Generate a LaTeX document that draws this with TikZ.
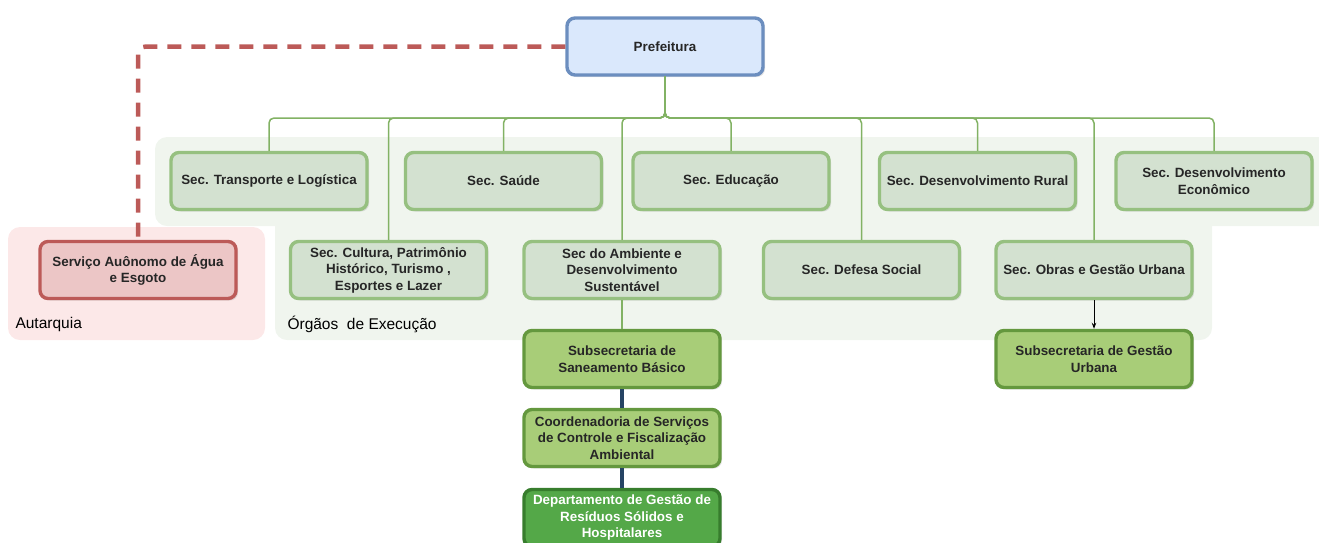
\documentclass[tikz,border=0pt]{standalone}
\usepackage{fontspec}
\setmainfont{Liberation Sans}
\usetikzlibrary{arrows.meta, positioning, shadows}
\definecolor{PrefFundo}{RGB}{218,232,252}
\definecolor{PrefBorda}{RGB}{108,142,191}
\definecolor{SecFundo}{RGB}{211,225,208}
\definecolor{SecBorda}{RGB}{150,192,128}
\definecolor{LigaVerde}{RGB}{130,178,100}
\definecolor{SubFundo}{RGB}{168,205,120}
\definecolor{SubBorda}{RGB}{100,152,62}
\definecolor{DepFundo}{RGB}{84,168,72}
\definecolor{DepBorda}{RGB}{55,125,45}
\definecolor{SaaeFundo}{RGB}{236,198,198}
\definecolor{SaaeBorda}{RGB}{188,90,88}
\definecolor{FundoVerde}{RGB}{240,245,238}
\definecolor{FundoRosa}{RGB}{252,232,232}
\definecolor{LigaAzul}{RGB}{38,68,100}

\begin{document}
\begin{tikzpicture}[x=1pt, y=-1pt, font=\fontsize{12}{14}\selectfont,
	caixa/.style={rounded corners=8pt, line width=3.4pt, minimum width=196pt,
		minimum height=57pt, align=center, anchor=center, text=black!85,
		font=\fontsize{13.4}{16.5}\selectfont\bfseries,
		drop shadow={shadow xshift=2pt, shadow yshift=-2pt, opacity=0.22}},
	pref/.style={caixa, draw=PrefBorda, fill=PrefFundo},
	sec/.style={caixa, draw=SecBorda, fill=SecFundo},
	sub/.style={caixa, draw=SubBorda, fill=SubFundo},
	dep/.style={caixa, draw=DepBorda, fill=DepFundo, text=white},
	saae/.style={caixa, draw=SaaeBorda, fill=SaaeFundo},
	liga/.style={LigaVerde, line width=1.5pt, rounded corners=5pt},
	rotulo/.style={anchor=west, font=\fontsize{15.5}{18}\selectfont}]

	\clip (0,0) rectangle (1319,542);

	% fundos dos grupos
	\fill[FundoVerde, rounded corners=12pt] (155,137) rectangle (1345,226);
	\fill[FundoVerde, rounded corners=12pt] (275,200) rectangle (1212,340);
	\fill[FundoRosa, rounded corners=12pt] (8,227) rectangle (265,340);

	\node[pref] (pref) at (665,46.5) {Prefeitura};

	\foreach \n/\x/\t in {transp/269/{Sec. Transporte e Logística},
	                      saude/503.5/{Sec. Saúde},
	                      educ/731/{Sec. Educação},
	                      rural/977.5/{Sec. Desenvolvimento Rural},
	                      econ/1214/{Sec. Desenvolvimento\\Econômico}}{
		\node[sec] (\n) at (\x,181) {\t};
	}
	\foreach \n/\x/\t in {cult/388.5/{Sec. Cultura, Patrimônio\\Histórico, Turismo ,\\Esportes e Lazer},
	                      amb/622/{Sec do Ambiente e\\Desenvolvimento\\Sustentável},
	                      def/861.5/{Sec. Defesa Social},
	                      obras/1094/{Sec. Obras e Gestão Urbana}}{
		\node[sec] (\n) at (\x,270) {\t};
	}

	\node[saae] (saae) at (138,270) {Serviço Auônomo de Água\\e Esgoto};
	\node[sub] (subsan) at (622,359) {Subsecretaria de\\Saneamento Básico};
	\node[sub] (coord) at (622,438) {Coordenadoria de Serviços\\de Controle e Fiscalização\\Ambiental};
	\node[dep] (depto) at (622,518) {Departamento de Gestão de\\Resíduos Sólidos e\\Hospitalares};
	\node[sub] (subgest) at (1094,359) {Subsecretaria de Gestão\\Urbana};

	\node[rotulo] (orgaos) at (284,324) {Órgãos\ \ de Execução};
	\node[rotulo] (autarq) at (12,324) {Autarquia};

	% ligações
	\coordinate (barra) at (665,118);
	\foreach \n in {transp, cult, saude, amb, educ, def, rural, obras, econ}{
		\draw[liga] (pref.south) -- (barra) -| (\n.north);
	}
	\draw[SaaeBorda, line width=4.5pt, dash pattern=on 14pt off 10pt,
		rounded corners=8pt] (pref.west) -| (saae.north);
	\draw[liga] (amb.south) -- (subsan.north);
	\draw[LigaAzul, line width=4pt] (subsan.south) -- (coord.north);
	\draw[LigaAzul, line width=4pt] (coord.south) -- (depto.north);
	\draw[black, line width=1pt, -{Stealth[length=6pt]}] (obras.south) -- (subgest.north);
\end{tikzpicture}
\end{document}
